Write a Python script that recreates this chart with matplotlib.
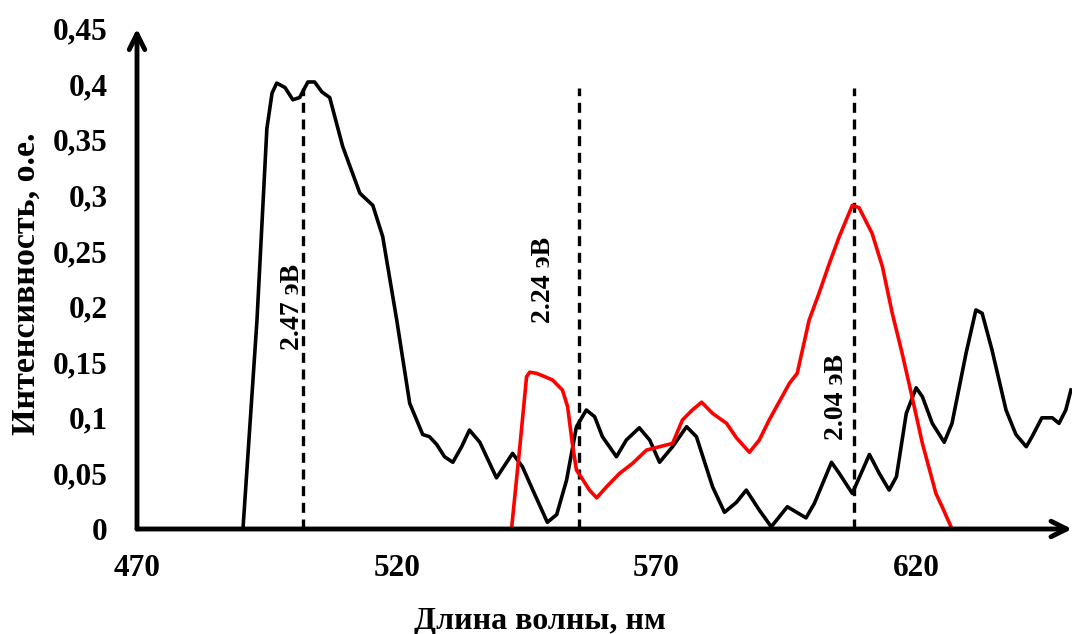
import numpy as np
import matplotlib
matplotlib.use("Agg")
import matplotlib.pyplot as plt

# black spectrum (wavelength nm, intensity)
black_nm = [490.4, 493.1, 495.0, 496.0, 496.9, 498.5, 500.0, 501.3, 502.9, 504.2, 505.6,
            507.1, 509.6, 512.9, 515.4, 517.3, 520.0, 522.5, 525.0, 526.3, 527.7,
            529.2, 530.8, 532.5, 534.0, 536.0, 539.2, 542.3, 544.2, 546.2, 549.0,
            550.8, 552.7, 554.6, 556.5, 558.1, 559.6, 562.3, 564.2, 566.7, 568.7,
            570.6, 573.1, 575.8, 577.7, 580.8, 583.1, 585.4, 587.3, 589.8, 592.1,
            595.2, 598.8, 600.4, 603.7, 605.2, 607.7, 611.0, 612.9, 614.8, 616.2,
            618.1, 620.0, 621.2, 623.1, 625.4, 626.9, 629.6, 631.5, 632.7, 634.6,
            637.3, 639.2, 641.2, 642.3, 644.2, 646.2, 647.5, 648.8, 649.8]
black_int = [0.0, 0.188, 0.360, 0.392, 0.401, 0.397, 0.386, 0.388, 0.402, 0.402, 0.393,
             0.388, 0.344, 0.302, 0.291, 0.263, 0.188, 0.113, 0.085, 0.083, 0.076,
             0.065, 0.060, 0.074, 0.089, 0.078, 0.046, 0.068, 0.056, 0.035, 0.006,
             0.013, 0.044, 0.092, 0.107, 0.101, 0.083, 0.065, 0.080, 0.091, 0.080,
             0.060, 0.074, 0.092, 0.083, 0.038, 0.015, 0.024, 0.035, 0.017, 0.002,
             0.020, 0.010, 0.023, 0.060, 0.050, 0.032, 0.067, 0.050, 0.035, 0.047,
             0.104, 0.127, 0.119, 0.095, 0.078, 0.095, 0.158, 0.197, 0.194, 0.161,
             0.107, 0.085, 0.074, 0.083, 0.100, 0.100, 0.095, 0.107, 0.125]

# red spectrum
red_nm = [542.1, 543.7, 545.0, 545.6, 546.9, 548.5, 550.0, 551.9, 552.9, 553.8,
          554.6, 555.6, 557.1, 558.5, 560.4, 562.9, 565.4, 568.1, 570.6, 573.1,
          575.0, 576.9, 578.7, 580.8, 583.5, 585.4, 587.9, 589.8, 591.7, 595.6,
          597.1, 599.4, 601.3, 603.3, 605.2, 607.7, 609.0, 611.5, 613.5, 615.4,
          617.3, 619.2, 621.2, 623.8, 625.0, 626.9]
red_int = [0.0, 0.074, 0.137, 0.141, 0.140, 0.137, 0.134, 0.125, 0.110, 0.077,
           0.053, 0.046, 0.035, 0.028, 0.038, 0.050, 0.059, 0.071, 0.074, 0.077,
           0.098, 0.107, 0.114, 0.104, 0.095, 0.082, 0.069, 0.080, 0.098, 0.131,
           0.140, 0.188, 0.212, 0.239, 0.263, 0.291, 0.289, 0.266, 0.236, 0.194,
           0.158, 0.119, 0.077, 0.032, 0.020, 0.0]

# marked peaks
peak_nm = [502, 555, 608]
peak_top = 0.397
peak_labels = ["2.47 эВ", "2.24 эВ", "2.04 эВ"]
label_x = [500.0, 548.3, 604.6]
label_y = [0.20, 0.224, 0.119]

x_ticks = [470, 520, 570, 620]
y_ticks = [0, 0.05, 0.1, 0.15, 0.2, 0.25, 0.3, 0.35, 0.4, 0.45]
y_ticklabels = ["0", "0,05", "0,1", "0,15", "0,2", "0,25", "0,3", "0,35", "0,4", "0,45"]

plt.rcParams['font.family'] = ['Liberation Serif', 'DejaVu Serif']
plt.rcParams['font.weight'] = 'bold'

W, H = 1072, 634
fig = plt.figure(figsize=(W / 100, H / 100), dpi=100)
ax = fig.add_axes([137 / W, 105 / H, 1 - 137 / W, (529 - 28.6) / H])

ax.plot(black_nm, black_int, color='black', lw=2.6, solid_joinstyle='round', zorder=3)
ax.plot(red_nm, red_int, color='#ff0000', lw=2.6, solid_joinstyle='round', zorder=3)

for p in peak_nm:
    ax.plot([p, p], [0, peak_top], color='black', lw=2.4, ls=(0, (3, 2)), zorder=2)

for t, lx, ly in zip(peak_labels, label_x, label_y):
    ax.text(lx, ly, t, rotation=90, ha='center', va='center',
            fontsize=20, fontweight='bold', zorder=4)

ax.set_xlim(470, 650)
ax.set_ylim(0, 0.45)
ax.set_xticks(x_ticks)
ax.set_xticklabels([str(v) for v in x_ticks])
ax.set_yticks(y_ticks)
ax.set_yticklabels(y_ticklabels)
ax.tick_params(length=0, labelsize=22.5)
ax.tick_params(axis='x', pad=18)
ax.tick_params(axis='y', pad=21)
for lab in ax.get_xticklabels() + ax.get_yticklabels():
    lab.set_fontweight('bold')

for s in ['top', 'right', 'left', 'bottom']:
    ax.spines[s].set_visible(False)

# axes with arrow heads
ax.annotate('', xy=(1.0, 0), xytext=(0, 0), xycoords='axes fraction',
            arrowprops=dict(arrowstyle='->', lw=3.5, mutation_scale=28,
                            shrinkA=0, shrinkB=0, color='black'), annotation_clip=False)
ax.annotate('', xy=(0, 1.0), xytext=(0, 0), xycoords='axes fraction',
            arrowprops=dict(arrowstyle='->', lw=3.5, mutation_scale=28,
                            shrinkA=0, shrinkB=0, color='black'), annotation_clip=False)

fig.text(540 / W, 1 - 621 / H, "Длина волны, нм", fontsize=23, fontweight='bold',
         ha='center', va='center')
fig.text(26 / W, 1 - 284 / H, "Интенсивность, о.е.", fontsize=24.5, fontweight='bold',
         ha='center', va='center', rotation=90)

fig.savefig("out.png", dpi=100)
